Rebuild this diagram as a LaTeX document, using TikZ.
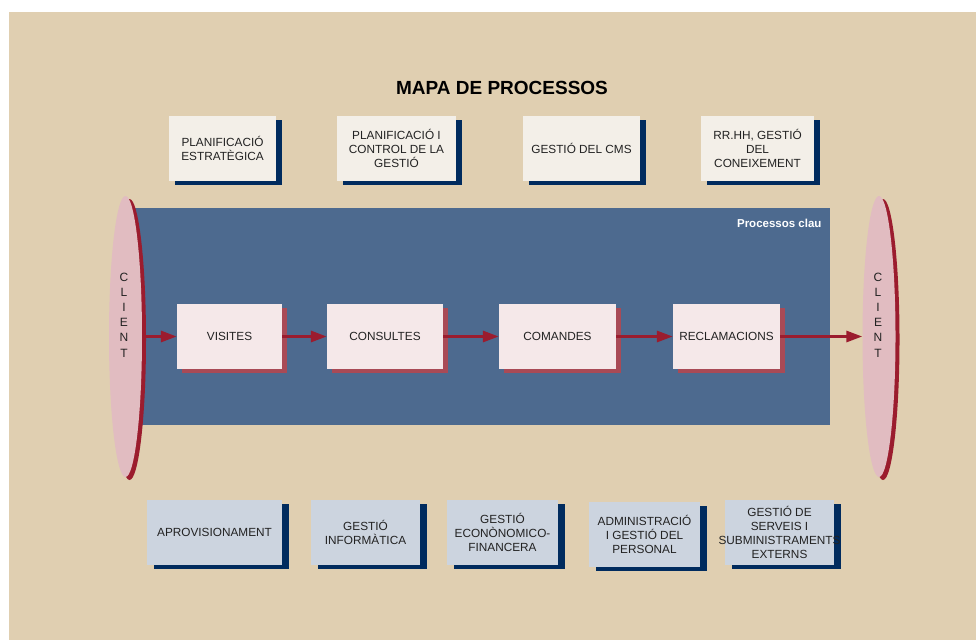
\documentclass[tikz,border=0pt]{standalone}
\usepackage{fontspec}
\setmainfont{Liberation Sans}
\usetikzlibrary{shapes.geometric, arrows.meta, shadows}
\usepackage{xcolor}
\definecolor{MapaBeige}{HTML}{E0CFB1}
\definecolor{MapaCrema}{HTML}{F3EFE8}
\definecolor{MapaNavy}{HTML}{002B5E}
\definecolor{MapaBlau}{HTML}{4D6A8F}
\definecolor{MapaRosa}{HTML}{F5E8E9}
\definecolor{MapaRosaFosc}{HTML}{A94A56}
\definecolor{MapaClient}{HTML}{E1BCC1}
\definecolor{MapaGrana}{HTML}{9B1C2E}
\definecolor{MapaGris}{HTML}{CCD4DF}
\definecolor{MapaText}{HTML}{222222}

\tikzset{
    boxtext/.style={font=\fontsize{11.8}{14}\selectfont, text=MapaText, align=center, inner sep=2pt, minimum height=65pt},
    estrategic/.style={boxtext, fill=MapaCrema, drop shadow={shadow xshift=6pt, shadow yshift=-4pt, fill=MapaNavy, opacity=1}},
    clau/.style={boxtext, fill=MapaRosa, drop shadow={shadow xshift=5pt, shadow yshift=-4pt, fill=MapaRosaFosc, opacity=1}},
    suport/.style={boxtext, fill=MapaGris, drop shadow={shadow xshift=7pt, shadow yshift=-4pt, fill=MapaNavy, opacity=1}},
    client/.style={ellipse, fill=MapaClient, inner sep=0pt, minimum width=33pt, minimum height=281pt, drop shadow={shadow xshift=4pt, shadow yshift=-3pt, fill=MapaGrana, opacity=1}},
    clienttext/.style={font=\fontsize{12}{15.2}\selectfont, text=MapaText, align=center},
    flux/.style={draw=MapaGrana, line width=3pt, -{Triangle[length=16pt, width=11pt]}}
}

\begin{document}
\begin{tikzpicture}[x=1pt, y=-1pt]
    \useasboundingbox (0,0) rectangle (976,640);
    \fill[white] (0,0) rectangle (976,640);
    \fill[MapaBeige] (9,12) rectangle (976,640);

    % Title
    \node[font=\bfseries\fontsize{19}{22}\selectfont] (titol) at (502, 88) {MAPA DE PROCESSOS};

    % Strategic processes
    \node[estrategic, minimum width=107pt] (planest) at (222.5, 148.5) {PLANIFICACIÓ\\ESTRATÈGICA};
    \node[estrategic, minimum width=119pt] (plancontrol) at (396.5, 148.5) {PLANIFICACIÓ I\\CONTROL DE LA\\GESTIÓ};
    \node[estrategic, minimum width=117pt] (cms) at (581.5, 148.5) {GESTIÓ DEL CMS};
    \node[estrategic, minimum width=113pt] (rrhh) at (757.5, 148.5) {RR.HH, GESTIÓ\\DEL\\CONEIXEMENT};

    % Key processes panel
    \node[fill=MapaBlau, inner sep=0pt, minimum width=697pt, minimum height=217pt] (panell) at (481.5, 316.5) {};
    \node[font=\bfseries\fontsize{11.5}{13}\selectfont, text=white, anchor=east] (panelltitol) at (825, 223) {Processos clau};

    % Client at both ends
    \node[client] (clientE) at (125.5, 336.5) {};
    \node[client] (clientS) at (879, 336.5) {};
    \node[clienttext] (clientEtext) at (124, 315) {C\\L\\I\\E\\N\\T};
    \node[clienttext] (clientStext) at (878, 315) {C\\L\\I\\E\\N\\T};

    % Process chain
    \node[clau, minimum width=105pt] (visites) at (229.5, 336.5) {VISITES};
    \node[clau, minimum width=116pt] (consultes) at (385, 336.5) {CONSULTES};
    \node[clau, minimum width=117pt] (comandes) at (557.5, 336.5) {COMANDES};
    \node[clau, minimum width=107pt] (reclamacions) at (726.5, 336.5) {RECLAMACIONS};

    \draw[flux] (clientE.east) -- (visites.west);
    \draw[flux] (visites.east) -- (consultes.west);
    \draw[flux] (consultes.east) -- (comandes.west);
    \draw[flux] (comandes.east) -- (reclamacions.west);
    \draw[flux] (reclamacions.east) -- (clientS.west);

    % Support processes
    \node[suport, minimum width=135pt] (aprov) at (214.5, 532.5) {APROVISIONAMENT};
    \node[suport, minimum width=109pt] (informatica) at (365.5, 532.5) {GESTIÓ\\INFORMÀTICA};
    \node[suport, minimum width=111pt] (economica) at (502.5, 532.5) {GESTIÓ\\ECONÒNOMICO-\\FINANCERA};
    \node[suport, minimum width=111pt] (personal) at (644.5, 534.5) {ADMINISTRACIÓ\\I GESTIÓ DEL\\PERSONAL};
    \node[suport, minimum width=109pt] (serveis) at (779.5, 532.5) {GESTIÓ DE\\SERVEIS I\\\makebox[90pt]{SUBMINISTRAMENTS}\\EXTERNS};
\end{tikzpicture}
\end{document}
